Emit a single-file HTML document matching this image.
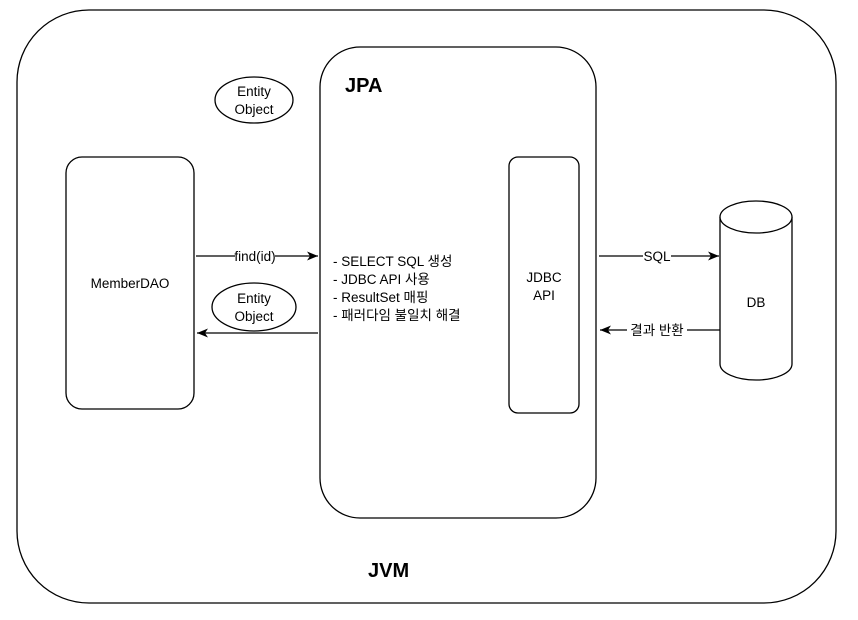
<html><body style="margin:0;background:#fff">
<svg width="858" height="620" xmlns="http://www.w3.org/2000/svg" font-family="'Liberation Sans','Noto Sans CJK KR',sans-serif">
<defs><marker id="a" markerWidth="12" markerHeight="12" refX="11" refY="6" orient="auto" markerUnits="userSpaceOnUse"><path d="M0,1.5 L11,6 L0,10.5 L3,6Z" fill="#000"/></marker></defs>
<g fill="none" stroke="#000" stroke-width="1.3">
<rect x="17" y="10" width="819" height="593" rx="72"/>
<rect x="320" y="47" width="276" height="471" rx="40"/>
<rect x="509" y="157" width="70" height="256" rx="9"/>
<rect x="66" y="157" width="128" height="252" rx="16"/>
<ellipse cx="254" cy="100" rx="39" ry="23"/>
<ellipse cx="254" cy="307" rx="42" ry="24"/>
<path d="M720,217 V364 A36,16 0 0 0 792,364 V217"/>
<ellipse cx="756" cy="217" rx="36" ry="16" fill="#fff"/>
<line x1="196" y1="256" x2="318" y2="256" marker-end="url(#a)"/>
<line x1="318" y1="333" x2="197" y2="333" marker-end="url(#a)"/>
<line x1="599" y1="256" x2="719" y2="256" marker-end="url(#a)"/>
<line x1="720" y1="330" x2="600" y2="330" marker-end="url(#a)"/>
</g>
<g font-size="13.5" fill="#000" text-anchor="middle">
<rect x="235" y="248" width="40" height="16" fill="#fff"/>
<text x="255" y="261">find(id)</text>
<rect x="643" y="248" width="28" height="16" fill="#fff"/>
<text x="657" y="261">SQL</text>
<rect x="627" y="322" width="60" height="16" fill="#fff"/>
<text x="657" y="335">결과 반환</text>
<text x="254" y="96">Entity</text><text x="254" y="114">Object</text>
<text x="254" y="303">Entity</text><text x="254" y="321">Object</text>
<text x="130" y="288">MemberDAO</text>
<text x="544" y="282">JDBC</text><text x="544" y="300">API</text>
<text x="756" y="307">DB</text>
</g>
<g font-size="13.5" fill="#000">
<text x="333" y="266">- SELECT SQL 생성</text>
<text x="333" y="284">- JDBC API 사용</text>
<text x="333" y="302">- ResultSet 매핑</text>
<text x="333" y="320">- 패러다임 불일치 해결</text>
</g>
<text x="345" y="92" font-size="20" font-weight="bold">JPA</text>
<text x="368" y="577" font-size="20" font-weight="bold">JVM</text>
</svg>
</body></html>
